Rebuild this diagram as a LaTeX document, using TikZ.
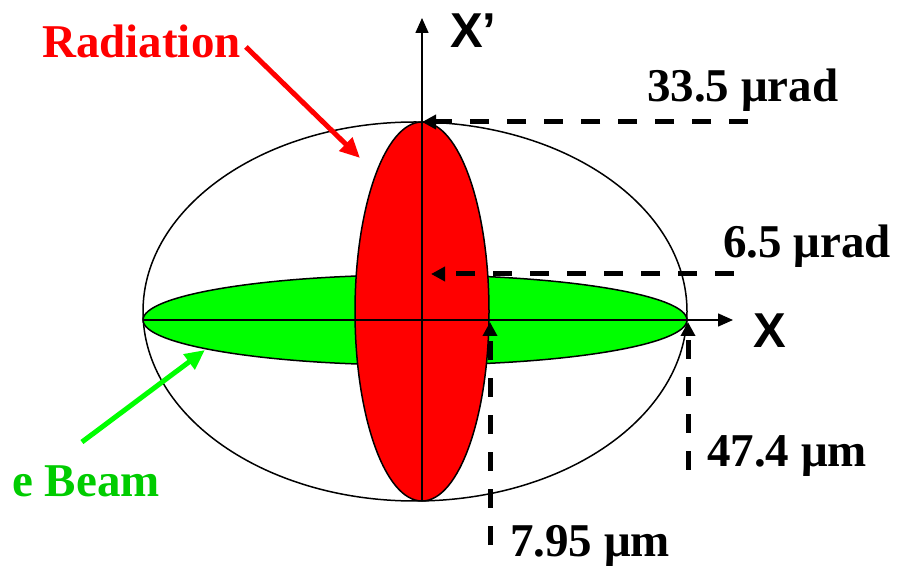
\documentclass[tikz,border=0pt]{standalone}
\usepackage{fontspec}
\setmainfont{Liberation Serif}
\newfontfamily\axisfont{Liberation Sans}
\usetikzlibrary{arrows.meta,positioning}
\definecolor{radred}{RGB}{255,0,0}
\definecolor{beamgreen}{RGB}{0,255,0}
\definecolor{beamtext}{RGB}{0,204,0}

\begin{document}
\begin{tikzpicture}[x=1pt,y=1pt,
  outline/.style={line width=1.5pt},
  axisline/.style={line width=1.5pt,-{Triangle[length=15pt,width=13pt]}},
  dimline/.style={line width=5pt,dash pattern=on 19pt off 18pt,-{Triangle[length=14pt,width=14pt]}},
  pointer/.style={line width=5pt,-{Triangle[length=20pt,width=18pt]}},
  valuelabel/.style={font=\fontsize{47}{50}\selectfont\bfseries,inner sep=0pt,anchor=base west},
  axislabel/.style={font=\axisfont\fontsize{49}{52}\selectfont\bfseries,inner sep=0pt,anchor=base west}]
\useasboundingbox (0,0) rectangle (899,570);
% phase space ellipses
\draw[outline,fill=white] (415,258.5) ellipse (272pt and 189.5pt);
\draw[outline,fill=beamgreen] (415,250) ellipse (272pt and 45pt);
\draw[outline,fill=radred] (422,258.5) ellipse (67pt and 189.5pt);
% axes
\coordinate (xstart) at (143,250); \coordinate (xend) at (733,250);
\coordinate (ystart) at (422,69); \coordinate (yend) at (422,552);
\draw[axisline] (xstart) -- (xend);
\draw[axisline] (ystart) -- (yend);
\node[axislabel] (xlabel) at (753,222) {X};
\node[axislabel] (xplabel) at (450,522) {X’};
% divergence and size markers
\coordinate (radtopend) at (748,448); \coordinate (radtop) at (422,448);
\coordinate (beamtopend) at (734,296); \coordinate (beamtop) at (431,296);
\coordinate (radfoot) at (490,25); \coordinate (radedge) at (490,248);
\coordinate (beamfoot) at (688,100); \coordinate (beamedge) at (688,248);
\draw[dimline] (radtopend) -- (radtop);
\draw[dimline] (beamtopend) -- (beamtop);
\draw[dimline] (radfoot) -- (radedge);
\draw[dimline] (beamfoot) -- (beamedge);
\node[valuelabel] (raddiv) at (647,468) {33.5 μrad};
\node[valuelabel] (beamdiv) at (723,312) {6.5 μrad};
\node[valuelabel] (beamsize) at (707,103) {47.4 μm};
\node[valuelabel] (radsize) at (510,13) {7.95 μm};
% legend pointers
\node[valuelabel,text=radred] (radlabel) at (42,512) {Radiation};
\node[valuelabel,text=beamtext] (beamlabel) at (12,73) {e Beam};
\coordinate (radtip) at (360,412);
\coordinate (beamtip) at (205,220);
\draw[pointer,radred] ([xshift=5pt,yshift=-5pt]radlabel.east) -- (radtip);
\draw[pointer,beamgreen] ([xshift=-4pt,yshift=24pt]beamlabel.north) -- (beamtip);
\end{tikzpicture}
\end{document}
